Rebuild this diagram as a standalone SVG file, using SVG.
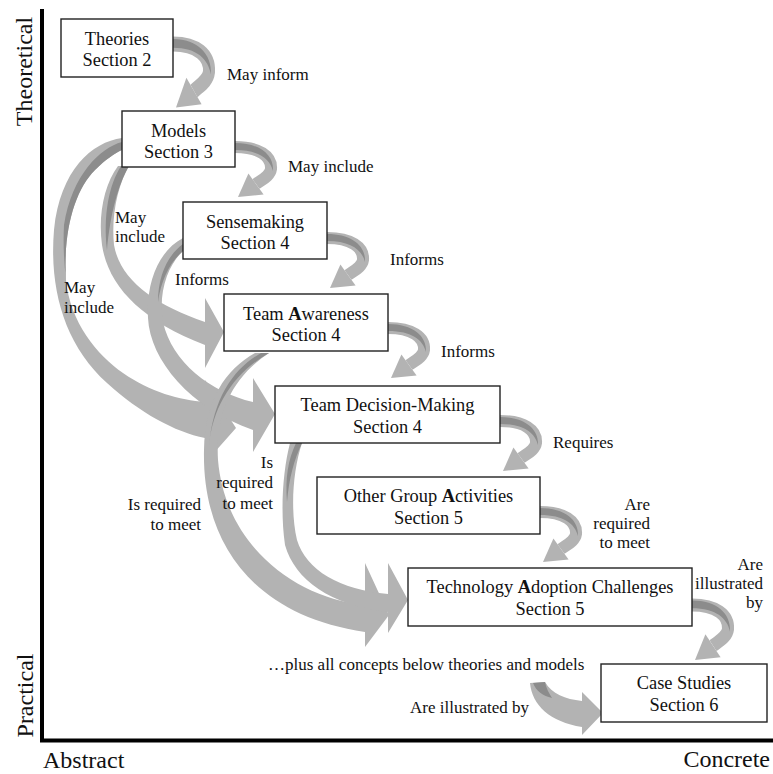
<svg xmlns="http://www.w3.org/2000/svg" xmlns:xlink="http://www.w3.org/1999/xlink" width="773" height="774" viewBox="0 0 773 774">
<style>
.box{fill:#fff;stroke:#222;stroke-width:1.4}
.nt{font-family:"Liberation Serif","Times New Roman",serif;font-size:18.4px;text-anchor:middle;fill:#111}
.lb{font-family:"Liberation Serif","Times New Roman",serif;font-size:17px;fill:#111}
.end{text-anchor:end}
.ax{font-family:"Liberation Serif","Times New Roman",serif;font-size:24px;fill:#111}
.arr{fill:#b3b3b3}
.band{fill:none;stroke:#b3b3b3;stroke-width:12}
.dk{fill:#8c8c8c}
.axis{stroke:#000;stroke-width:4;fill:none}
</style>
<defs>
<g id="step">
<path class="band" d="M0,0 C24,0 37,9 36,22 C35,29 27.5,32.3 21,37"/>
<path class="dk" d="M0,-4 C25,-4 39,8 38,24 C35,12 24,3 0,3 Z"/>
<polygon class="arr" points="28.6,47.5 3,50 13.4,26.5"/>
</g>
</defs>
<rect width="773" height="774" fill="#fff"/>
<g id="axes">
<path class="axis" d="M42,9 V741 M40,740.5 H773"/>
<text class="ax" transform="translate(32,71.5) rotate(-90)" text-anchor="middle">Theoretical</text>
<text class="ax" transform="translate(33,695.5) rotate(-90)" text-anchor="middle">Practical</text>
<text class="ax" x="43" y="768">Abstract</text>
<text class="ax" x="770" y="767" text-anchor="end">Concrete</text>
</g>
<g id="connectors">
<!-- big arcs -->
<path class="arr" d="M122,138 C92,142 60,170 54,230 C49,290 65,345 107,383 C140,413 175,432 205,438 L205,463 L236,428 L205,380 L205,402 C180,400 150,392 123,373 C97,355 70,322 66,280 C63,230 75,190 95,170 C105,160 115,153 122,150 Z"/>
<path class="dk" d="M122,142 C100,148 72,175 64,225 C63,245 64,262 66,280 C63,230 75,190 95,170 C105,160 115,153 122,150 Z"/>
<path class="arr" d="M118,166 C104,185 98,215 102,245 C108,285 140,320 205,345 L205,368 L224,332 L205,298 L205,322 C155,305 120,280 114,245 C111,215 118,185 129,166 Z"/>
<path class="dk" d="M121,166 C109,185 103,215 107,250 C110,215 118,185 129,166 Z"/>
<path class="arr" d="M183,238 C160,250 146,280 148,318 C150,360 190,408 253,430 L253,452 L275,414 L253,378 L253,402 C210,392 172,362 163,322 C158,292 168,265 183,251 Z"/>
<path class="dk" d="M183,244 C168,255 158,275 158,302 C161,280 170,262 183,251 Z"/>
<path class="arr" d="M255,353 C225,370 205,400 204,450 C202,540 250,615 365,632 L365,647 L389,615 L365,563 L365,605 C295,598 225,545 218,460 C215,410 235,375 269,353 Z"/>
<path class="dk" d="M261,353 C235,368 214,395 209,445 C213,405 235,372 269,353 Z"/>
<path class="arr" d="M290,443 C283,470 280,510 285,545 C295,580 330,605 388,612 L388,633 L408,600 L388,563 L388,594 C340,590 306,570 297,540 C290,510 293,470 302,443 Z"/>
<path class="dk" d="M296,443 C288,460 285,478 287,502 C289,478 294,460 302,443 Z"/>
<path class="arr" d="M530,683 C532,705 550,722 582,727 L582,735 L603,713 L582,692 L582,701 C565,699 552,694 545,682 Z"/>
<path class="dk" d="M533,683 C536,691 543,696 552,698 C549,693 546,688 545,682 Z"/>
<!-- step arrows -->
<use xlink:href="#step" transform="translate(173,44) scale(1,1.27)"/>
<use xlink:href="#step" transform="translate(235,147)"/>
<use xlink:href="#step" transform="translate(327,238)"/>
<use xlink:href="#step" transform="translate(388,328)"/>
<use xlink:href="#step" transform="translate(500,421)"/>
<use xlink:href="#step" transform="translate(540,512)"/>
<use xlink:href="#step" transform="translate(692,605) scale(1,1.1)"/>
</g>
<g id="labels">
<text class="lb" x="227" y="80">May inform</text>
<text class="lb" x="288" y="172">May include</text>
<text class="lb" x="390" y="265">Informs</text>
<text class="lb" x="441" y="357">Informs</text>
<text class="lb" x="553" y="448">Requires</text>
<text class="lb end" x="650" y="510">Are</text>
<text class="lb end" x="650" y="529">required</text>
<text class="lb end" x="650" y="548">to meet</text>
<text class="lb end" x="763" y="570">Are</text>
<text class="lb end" x="763" y="589">illustrated</text>
<text class="lb end" x="763" y="608">by</text>
<text class="lb" x="115" y="223">May</text>
<text class="lb" x="115" y="242">include</text>
<text class="lb" x="64" y="293">May</text>
<text class="lb" x="64" y="313">include</text>
<text class="lb" x="175" y="285">Informs</text>
<text class="lb end" x="273" y="468">Is</text>
<text class="lb end" x="273" y="488">required</text>
<text class="lb end" x="273" y="509">to meet</text>
<text class="lb end" x="201" y="510">Is required</text>
<text class="lb end" x="201" y="530">to meet</text>
<text class="lb" x="268" y="670">…plus all concepts below theories and models</text>
<text class="lb" x="410" y="713">Are illustrated by</text>
</g>
<g id="theories"><rect class="box" x="61" y="19" width="112" height="58"/><text class="nt" x="117" y="44.5">Theories</text><text class="nt" x="117" y="66">Section 2</text></g>
<g id="models"><rect class="box" x="122" y="111" width="113" height="56"/><text class="nt" x="178.5" y="136.5">Models</text><text class="nt" x="178.5" y="158">Section 3</text></g>
<g id="sensemaking"><rect class="box" x="183" y="202" width="144" height="57"/><text class="nt" x="255" y="227.5">Sensemaking</text><text class="nt" x="255" y="249">Section 4</text></g>
<g id="team-awareness"><rect class="box" x="224" y="294" width="164" height="57"/><text class="nt" x="306" y="319.5">Team <tspan font-weight="bold">A</tspan>wareness</text><text class="nt" x="306" y="341">Section 4</text></g>
<g id="team-decision"><rect class="box" x="275" y="386" width="225" height="57"/><text class="nt" x="387.5" y="410.5">Team Decision-Making</text><text class="nt" x="387.5" y="432.5">Section 4</text></g>
<g id="other-group"><rect class="box" x="317" y="477" width="223" height="57"/><text class="nt" x="428.5" y="501.5">Other Group <tspan font-weight="bold">A</tspan>ctivities</text><text class="nt" x="428.5" y="523.5">Section 5</text></g>
<g id="technology"><rect class="box" x="408" y="568" width="284" height="58"/><text class="nt" x="550" y="593">Technology <tspan font-weight="bold">A</tspan>doption Challenges</text><text class="nt" x="550" y="615">Section 5</text></g>
<g id="case-studies"><rect class="box" x="601" y="664" width="166" height="58"/><text class="nt" x="684" y="689">Case Studies</text><text class="nt" x="684" y="711">Section 6</text></g>
</svg>
